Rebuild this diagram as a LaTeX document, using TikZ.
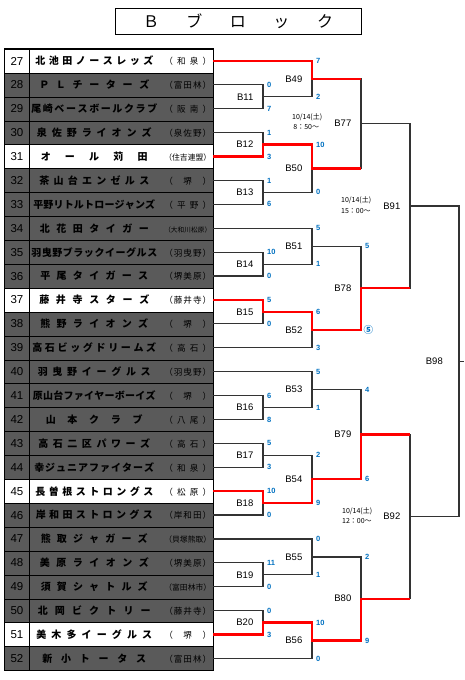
\documentclass[tikz,border=0pt]{standalone}
\usepackage{fontspec}
\setmainfont{Liberation Sans}
\newfontfamily\jp{Noto Sans CJK JP}
\usetikzlibrary{positioning}
\definecolor{cellgray}{HTML}{5A5A5A}
\definecolor{scoreblue}{HTML}{0070C0}
\makeatletter
\newcommand\spread[2]{\makebox[#1][s]{\let\sp@gap\relax\@tfor\sp@c:=#2\do{\sp@gap\sp@c\let\sp@gap\hfil}}}
\makeatother
\newcommand\team[4][8.6]{\makebox[180pt]{\makebox[126pt]{\bfseries\spread{#2}{#3}}\hfill{\fontsize{#1}{#1}\selectfont\spread{47pt}{#4}}}}
\begin{document}
\begin{tikzpicture}[x=1pt,y=-1pt,every node/.style={inner sep=0pt},
  numcell/.style={draw,minimum width=24.5pt,minimum height=23.9pt,font=\fontsize{11.5}{12}\selectfont},
  namecell/.style={draw,minimum width=184pt,minimum height=23.9pt,font=\jp\fontsize{10}{11}\selectfont},
  dark/.style={fill=cellgray},
  line/.style={line width=1.2pt,draw=black!80},
  win/.style={line width=2.4pt,draw=red},
  mlab/.style={font=\fontsize{9.5}{10}\selectfont},
  score/.style={anchor=west,text=scoreblue,font=\bfseries\fontsize{7.5}{8}\selectfont},
  date/.style={anchor=west,align=left,font=\jp\fontsize{7}{10.5}\selectfont}]
\useasboundingbox (0,0) rectangle (464,680);
% title
\node[draw,line width=1pt,minimum width=246pt,minimum height=26pt,font=\jp\fontsize{16}{16}\selectfont] (title) at (238,21) {\spread{190pt}{Ｂブロック}};
% team table
\node[numcell] (n27) at (16.9,61.00) {27};
\node[namecell] (t27) at (121.25,61.00) {\team{118pt}{北池田ノースレッズ}{（和泉）}};
\node[numcell,dark] (n28) at (16.9,84.85) {28};
\node[namecell,dark] (t28) at (121.25,84.85) {\team{110pt}{ＰＬチーターズ}{（富田林）}};
\node[numcell,dark] (n29) at (16.9,108.75) {29};
\node[namecell,dark] (t29) at (121.25,108.75) {\team{126pt}{尾崎ベースボールクラブ}{（阪南）}};
\node[numcell,dark] (n30) at (16.9,132.65) {30};
\node[namecell,dark] (t30) at (121.25,132.65) {\team{115pt}{泉佐野ライオンズ}{（泉佐野）}};
\node[numcell] (n31) at (16.9,156.55) {31};
\node[namecell] (t31) at (121.25,156.55) {\team[7.8]{107pt}{オール苅田}{（住吉連盟）}};
\node[numcell,dark] (n32) at (16.9,180.45) {32};
\node[namecell,dark] (t32) at (121.25,180.45) {\team{110pt}{茶山台エンゼルス}{（堺）}};
\node[numcell,dark] (n33) at (16.9,204.35) {33};
\node[namecell,dark] (t33) at (121.25,204.35) {\team{122pt}{平野リトルトロージャンズ}{（平野）}};
\node[numcell,dark] (n34) at (16.9,228.25) {34};
\node[namecell,dark] (t34) at (121.25,228.25) {\team[6.6]{109pt}{北花田タイガー}{（大和川松原）}};
\node[numcell,dark] (n35) at (16.9,252.15) {35};
\node[namecell,dark] (t35) at (121.25,252.15) {\team{126pt}{羽曳野ブラックイーグルス}{（羽曳野）}};
\node[numcell,dark] (n36) at (16.9,276.05) {36};
\node[namecell,dark] (t36) at (121.25,276.05) {\team{108pt}{平尾タイガース}{（堺美原）}};
\node[numcell] (n37) at (16.9,299.95) {37};
\node[namecell] (t37) at (121.25,299.95) {\team{110pt}{藤井寺スターズ}{（藤井寺）}};
\node[numcell,dark] (n38) at (16.9,323.85) {38};
\node[namecell,dark] (t38) at (121.25,323.85) {\team{108pt}{熊野ライオンズ}{（堺）}};
\node[numcell,dark] (n39) at (16.9,347.75) {39};
\node[namecell,dark] (t39) at (121.25,347.75) {\team{124pt}{高石ビッグドリームズ}{（高石）}};
\node[numcell,dark] (n40) at (16.9,371.65) {40};
\node[namecell,dark] (t40) at (121.25,371.65) {\team{113pt}{羽曳野イーグルス}{（羽曳野）}};
\node[numcell,dark] (n41) at (16.9,395.55) {41};
\node[namecell,dark] (t41) at (121.25,395.55) {\team{123pt}{原山台ファイヤーボーイズ}{（堺）}};
\node[numcell,dark] (n42) at (16.9,419.45) {42};
\node[namecell,dark] (t42) at (121.25,419.45) {\team{97pt}{山本クラブ}{（八尾）}};
\node[numcell,dark] (n43) at (16.9,443.35) {43};
\node[namecell,dark] (t43) at (121.25,443.35) {\team{112pt}{高石二区パワーズ}{（高石）}};
\node[numcell,dark] (n44) at (16.9,467.25) {44};
\node[namecell,dark] (t44) at (121.25,467.25) {\team{120pt}{幸ジュニアファイターズ}{（和泉）}};
\node[numcell] (n45) at (16.9,491.15) {45};
\node[namecell] (t45) at (121.25,491.15) {\team{118pt}{長曽根ストロングス}{（松原）}};
\node[numcell,dark] (n46) at (16.9,515.05) {46};
\node[namecell,dark] (t46) at (121.25,515.05) {\team{117pt}{岸和田ストロングス}{（岸和田）}};
\node[numcell,dark] (n47) at (16.9,538.95) {47};
\node[namecell,dark] (t47) at (121.25,538.95) {\team[7.8]{107pt}{熊取ジャガーズ}{（貝塚熊取）}};
\node[numcell,dark] (n48) at (16.9,562.85) {48};
\node[namecell,dark] (t48) at (121.25,562.85) {\team{109pt}{美原ライオンズ}{（堺美原）}};
\node[numcell,dark] (n49) at (16.9,586.75) {49};
\node[namecell,dark] (t49) at (121.25,586.75) {\team[7.8]{107pt}{須賀シャトルズ}{（富田林市）}};
\node[numcell,dark] (n50) at (16.9,610.65) {50};
\node[namecell,dark] (t50) at (121.25,610.65) {\team{113pt}{北岡ビクトリー}{（藤井寺）}};
\node[numcell] (n51) at (16.9,634.55) {51};
\node[namecell] (t51) at (121.25,634.55) {\team{116pt}{美木多イーグルス}{（堺）}};
\node[numcell,dark] (n52) at (16.9,658.45) {52};
\node[namecell,dark] (t52) at (121.25,658.45) {\team{104pt}{新小トータス}{（富田林）}};
\draw[line width=1pt] (n27.north west) rectangle (t52.south east);
\draw[line width=1.6pt] (n27.north east) -- (n52.south east);
% match points
\coordinate (B11) at (263,96.80);  \coordinate (B12) at (263,144.60);
\coordinate (B13) at (263,192.40); \coordinate (B14) at (263,264.10);
\coordinate (B15) at (263,311.90); \coordinate (B16) at (263,407.50);
\coordinate (B17) at (263,455.30); \coordinate (B18) at (263,503.10);
\coordinate (B19) at (263,574.80); \coordinate (B20) at (263,622.60);
\coordinate (B49) at (312,78.90);  \coordinate (B50) at (312,168.50);
\coordinate (B51) at (312,246.20); \coordinate (B52) at (312,329.80);
\coordinate (B53) at (312,389.60); \coordinate (B54) at (312,479.20);
\coordinate (B55) at (312,556.90); \coordinate (B56) at (312,640.50);
\coordinate (B77) at (361,123.70); \coordinate (B78) at (361,288.00);
\coordinate (B79) at (361,434.40); \coordinate (B80) at (361,598.70);
\coordinate (B91) at (410,205.90); \coordinate (B92) at (410,516.60);
\coordinate (B98) at (459,361.20); \coordinate (out) at (464,361.20);
% bracket
\draw[line] (t28.east) -| (B11) (t29.east) -| (B11);
\draw[line] (t30.east) -| (B12) (t31.east) -| (B12);
\draw[line] (t32.east) -| (B13) (t33.east) -| (B13);
\draw[line] (t35.east) -| (B14) (t36.east) -| (B14);
\draw[line] (t37.east) -| (B15) (t38.east) -| (B15);
\draw[line] (t41.east) -| (B16) (t42.east) -| (B16);
\draw[line] (t43.east) -| (B17) (t44.east) -| (B17);
\draw[line] (t45.east) -| (B18) (t46.east) -| (B18);
\draw[line] (t48.east) -| (B19) (t49.east) -| (B19);
\draw[line] (t50.east) -| (B20) (t51.east) -| (B20);
\draw[line] (t27.east) -| (B49) (B11) -| (B49);
\draw[line] (B12) -| (B50) (B13) -| (B50);
\draw[line] (t34.east) -| (B51) (B14) -| (B51);
\draw[line] (B15) -| (B52) (t39.east) -| (B52);
\draw[line] (t40.east) -| (B53) (B16) -| (B53);
\draw[line] (B17) -| (B54) (B18) -| (B54);
\draw[line] (t47.east) -| (B55) (B19) -| (B55);
\draw[line] (B20) -| (B56) (t52.east) -| (B56);
\draw[line] (B49) -| (B77) (B50) -| (B77);
\draw[line] (B51) -| (B78) (B52) -| (B78);
\draw[line] (B53) -| (B79) (B54) -| (B79);
\draw[line] (B55) -| (B80) (B56) -| (B80);
\draw[line] (B77) -| (B91) (B78) -| (B91);
\draw[line] (B79) -| (B92) (B80) -| (B92);
\draw[line] (B91) -| (B98) (B92) -| (B98);
\draw[line] (B98) -- (out);
% winners
\draw[win] (t27.east) -| (B49) -- (B49 -| B77);
\draw[win] (t31.east) -| (B12) -| (B50) -- (B50 -| B77);
\draw[win] (t37.east) -| (B15) -| (B52) -| (B78) -- (B78 -| B91);
\draw[win] (t45.east) -| (B18) -| (B54) -| (B79) -- (B79 -| B92);
\draw[win] (t51.east) -| (B20) -| (B56) -| (B80) -- (B80 -| B92);
% match labels
\node[mlab,left=9.5pt of B11] (lB11) {B11}; \node[mlab,left=9.5pt of B12] (lB12) {B12};
\node[mlab,left=9.5pt of B13] (lB13) {B13}; \node[mlab,left=9.5pt of B14] (lB14) {B14};
\node[mlab,left=9.5pt of B15] (lB15) {B15}; \node[mlab,left=9.5pt of B16] (lB16) {B16};
\node[mlab,left=9.5pt of B17] (lB17) {B17}; \node[mlab,left=9.5pt of B18] (lB18) {B18};
\node[mlab,left=9.5pt of B19] (lB19) {B19}; \node[mlab,left=9.5pt of B20] (lB20) {B20};
\node[mlab,left=9.5pt of B49] (lB49) {B49}; \node[mlab,left=9.5pt of B50] (lB50) {B50};
\node[mlab,left=9.5pt of B51] (lB51) {B51}; \node[mlab,left=9.5pt of B52] (lB52) {B52};
\node[mlab,left=9.5pt of B53] (lB53) {B53}; \node[mlab,left=9.5pt of B54] (lB54) {B54};
\node[mlab,left=9.5pt of B55] (lB55) {B55}; \node[mlab,left=9.5pt of B56] (lB56) {B56};
\node[mlab,left=9.5pt of B77] (lB77) {B77}; \node[mlab,left=9.5pt of B78] (lB78) {B78};
\node[mlab,left=9.5pt of B79] (lB79) {B79}; \node[mlab,left=9.5pt of B80] (lB80) {B80};
\node[mlab,left=9.5pt of B91] (lB91) {B91}; \node[mlab,left=9.5pt of B92] (lB92) {B92};
\node[mlab,left=16pt of B98] (lB98) {B98};
% scores
\node[score] (s11a) at (267,84.85) {0};   \node[score] (s11b) at (267,108.75) {7};
\node[score] (s49a) at (316,61.00) {7};   \node[score] (s49b) at (316,96.80) {2};
\node[score] (s12a) at (267,132.65) {1};  \node[score] (s12b) at (267,156.55) {3};
\node[score] (s13a) at (267,180.45) {1};  \node[score] (s13b) at (267,204.35) {6};
\node[score] (s50a) at (316,144.60) {10}; \node[score] (s50b) at (316,192.40) {0};
\node[score] (s51a) at (316,228.25) {5};  \node[score] (s51b) at (316,264.10) {1};
\node[score] (s14a) at (267,252.15) {10}; \node[score] (s14b) at (267,276.05) {0};
\node[score] (s15a) at (267,299.95) {5};  \node[score] (s15b) at (267,323.85) {0};
\node[score] (s52a) at (316,311.90) {6};  \node[score] (s52b) at (316,347.75) {3};
\node[score] (s78a) at (365,246.20) {5};
\node[score,font=\jp\bfseries\fontsize{9.5}{9.5}\selectfont] (s78b) at (363.5,329.80) {⑤};
\node[score] (s53a) at (316,371.65) {5};  \node[score] (s53b) at (316,407.50) {1};
\node[score] (s16a) at (267,395.55) {6};  \node[score] (s16b) at (267,419.45) {8};
\node[score] (s17a) at (267,443.35) {5};  \node[score] (s17b) at (267,467.25) {3};
\node[score] (s18a) at (267,491.15) {10}; \node[score] (s18b) at (267,515.05) {0};
\node[score] (s54a) at (316,455.30) {2};  \node[score] (s54b) at (316,503.10) {9};
\node[score] (s79a) at (365,389.60) {4};  \node[score] (s79b) at (365,479.20) {6};
\node[score] (s55a) at (316,538.95) {0};  \node[score] (s55b) at (316,574.80) {1};
\node[score] (s19a) at (267,562.85) {11}; \node[score] (s19b) at (267,586.75) {0};
\node[score] (s20a) at (267,610.65) {0};  \node[score] (s20b) at (267,634.55) {3};
\node[score] (s56a) at (316,622.60) {10}; \node[score] (s56b) at (316,658.45) {0};
\node[score] (s80a) at (365,556.90) {2};  \node[score] (s80b) at (365,640.50) {9};
% dates
\node[date] (d77) at (292,121.5) {10/14(土)\\\,8：50～};
\node[date] (d91) at (341,205.0) {10/14(土)\\15：00～};
\node[date] (d92) at (342,515.5) {10/14(土)\\12：00～};
\end{tikzpicture}
\end{document}
